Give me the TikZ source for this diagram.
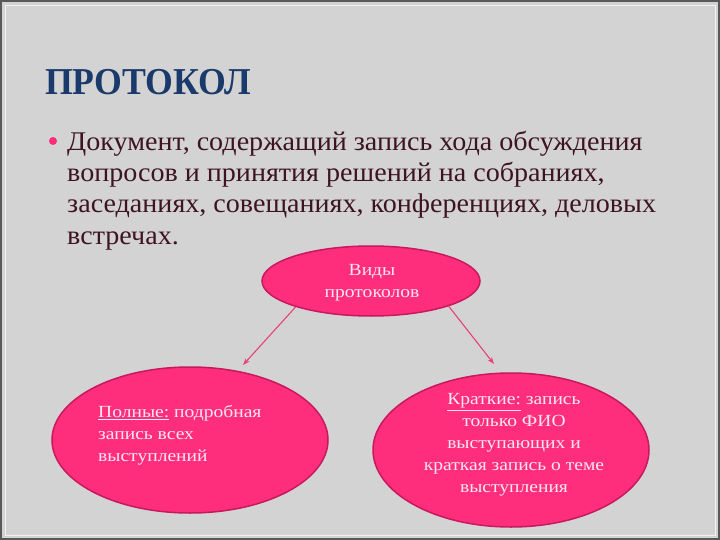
\documentclass[tikz,border=0pt]{standalone}
\usepackage{fontspec}
\setmainfont{Liberation Serif}
\usetikzlibrary{arrows.meta,shapes.geometric}
\definecolor{bg}{HTML}{D3D3D3}
\definecolor{pinkfill}{HTML}{FF2E7C}
\definecolor{pinkdraw}{HTML}{C8185E}
\definecolor{titleblue}{HTML}{1A3A6C}
\definecolor{bodytext}{HTML}{3E1424}
\definecolor{ovaltext}{HTML}{FFE6F0}
\definecolor{arrowpink}{HTML}{E8407A}
\newcommand{\wideB}[1]{\scalebox{1.04}[1]{#1}}
\newcommand{\wideO}[1]{\scalebox{1.15}[1]{#1}}
\tikzset{
  oval/.style={ellipse, fill=pinkfill, draw=pinkdraw, line width=1.5pt, inner sep=0pt},
  ovaltxt/.style={text=ovaltext, font=\fontsize{17}{22}\selectfont, inner sep=0pt},
  conn/.style={draw=arrowpink, line width=1.1pt, -{Stealth[length=7pt,width=5pt]}},
  bodyline/.style={anchor=base west, text=bodytext, font=\fontsize{27}{31}\selectfont, inner sep=0pt}
}
\begin{document}
\begin{tikzpicture}[x=1pt,y=-1pt]
\useasboundingbox (0,0) rectangle (720,540);
\fill[bg] (0,0) rectangle (720,540);
\draw[black!65, line width=2pt] (1,1) rectangle (719,539);
\draw[white!90!gray, line width=0.8pt] (5,5) rectangle (715,535);
% title
\node[anchor=base west, text=titleblue, font=\fontsize{38}{40}\bfseries\selectfont, inner sep=0pt] (title) at (45,95) {\scalebox{0.94}[1]{ПРОТОКОЛ}};
% bullet
\fill[pinkfill] (53,141) circle (4) coordinate (bullet);
\node[bodyline] (l1) at (67,151) {\wideB{Документ, содержащий запись хода обсуждения}};
\node[bodyline] (l2) at (67,182) {\wideB{вопросов и принятия решений на собраниях,}};
\node[bodyline] (l3) at (67,213) {\wideB{заседаниях, совещаниях, конференциях, деловых}};
\node[bodyline] (l4) at (67,244) {\wideB{встречах.}};
% ovals
\node[oval, minimum width=218pt, minimum height=70pt] (top) at (371,281) {};
\node[ovaltxt, align=center] (toptxt) at (372,283) {\wideO{Виды}\\\wideO{протоколов}};
\node[oval, minimum width=276pt, minimum height=146pt] (left) at (190,440) {};
\node[ovaltxt, align=left, anchor=north west] (lefttxt) at (98,405) {\wideO{\underline{Полные:} подробная}\\\wideO{запись всех}\\\wideO{выступлений}};
\node[oval, minimum width=276pt, minimum height=154pt] (right) at (511,450) {};
\node[ovaltxt, align=center] (righttxt) at (514,445) {\wideO{\underline{Краткие:} запись}\\\wideO{только ФИО}\\\wideO{выступающих и}\\\wideO{краткая запись о теме}\\\wideO{выступления}};
% connectors
\coordinate (la) at (243,365);
\coordinate (ra) at (494,364);
\draw[conn] (top.-161) -- (la);
\draw[conn] (top.-18) -- (ra);
\end{tikzpicture}
\end{document}
